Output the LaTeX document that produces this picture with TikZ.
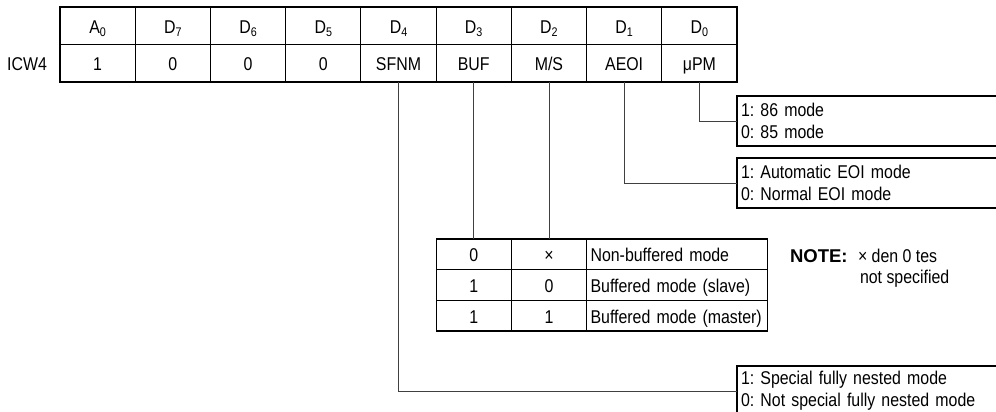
\documentclass[tikz,border=0pt]{standalone}
\usepackage{fontspec}
\setmainfont{Liberation Sans}[FakeStretch=0.86]
\newfontfamily\notefont{Liberation Sans Bold}
\newcommand{\mysub}[1]{\raisebox{-3.5pt}{\fontsize{12.5}{12.5}\selectfont #1}}
\begin{document}
\frenchspacing
\begin{tikzpicture}[x=1pt,y=-1pt,
  every node/.style={font=\fontsize{18.5}{22}\selectfont, inner sep=0pt, outer sep=0pt},
  cell/.style={draw=black, line width=1.1pt, minimum width=75.22pt, minimum height=37.5pt,
    anchor=north west, text height=15pt, text depth=0pt},
  tcell/.style={draw=black, line width=1.1pt, minimum width=75.22pt, minimum height=30.67pt,
    anchor=north west, text height=15pt, text depth=0pt},
  tdesc/.style={draw=black, line width=1.1pt, minimum height=30.67pt, text width=173.2pt,
    inner xsep=4pt, align=left, anchor=north west, text height=15pt, text depth=0pt},
  modebox/.style={draw=black, line width=1.1pt, anchor=north west, minimum height=50pt,
    text width=264pt, inner xsep=4pt, align=left},
  conn/.style={draw=black!75, line width=0.8pt},
  lbl/.style={anchor=base west}
]
\clip (0,0) rectangle (996,412);
\fill[white] (0,0) rectangle (996,412);

% top register table
\foreach \i/\t in {0/A\mysub{0},1/D\mysub{7},2/D\mysub{6},3/D\mysub{5},
  4/D\mysub{4},5/D\mysub{3},6/D\mysub{2},7/D\mysub{1},8/D\mysub{0}}
  \node[cell] (h\i) at ({60+75.22*\i},7) {\t};
\foreach \i/\t in {0/1,1/0,2/0,3/0,4/SFNM,5/BUF,6/{M/S},7/AEOI,8/μPM}
  \node[cell] (v\i) at ({60+75.22*\i},44.5) {\t};
\node[anchor=east, text height=15pt, text depth=0pt] (icw) at (47,63.25) {ICW4};

% right-hand mode boxes
\node[modebox] (b1) at (737,96) {1: 86 mode\\0: 85 mode};
\node[modebox] (b2) at (737,158) {1: Automatic EOI mode\\0: Normal EOI mode};
\node[modebox] (b3) at (737,366) {1: Special fully nested mode\\0: Not special fully nested mode};

% buffer table
\node[tcell] (t00) at (436.1,239) {0};
\node[tcell] (t01) at (511.32,239) {×};
\node[tdesc] (t02) at (586.54,239) {Non-buffered mode};
\node[tcell] (t10) at (436.1,269.67) {1};
\node[tcell] (t11) at (511.32,269.67) {0};
\node[tdesc] (t12) at (586.54,269.67) {Buffered mode (slave)};
\node[tcell] (t20) at (436.1,300.33) {1};
\node[tcell] (t21) at (511.32,300.33) {1};
\node[tdesc] (t22) at (586.54,300.33) {Buffered mode (master)};

% note
\node[lbl, font=\notefont\fontsize{18.5}{22}\selectfont] (note) at (790,262) {NOTE:};
\node[lbl] (note1) at (858,262) {× den 0 tes};
\node[lbl] (note2) at (860,283) {not specified};

% connectors
\draw[conn] (v8.south) |- (b1.west);
\draw[conn] (v7.south) |- (b2.west);
\draw[conn] (v4.south) |- (b3.west);
\draw[conn] (v5.south) -- (t00.north);
\draw[conn] (v6.south) -- (t01.north);
\end{tikzpicture}
\end{document}
